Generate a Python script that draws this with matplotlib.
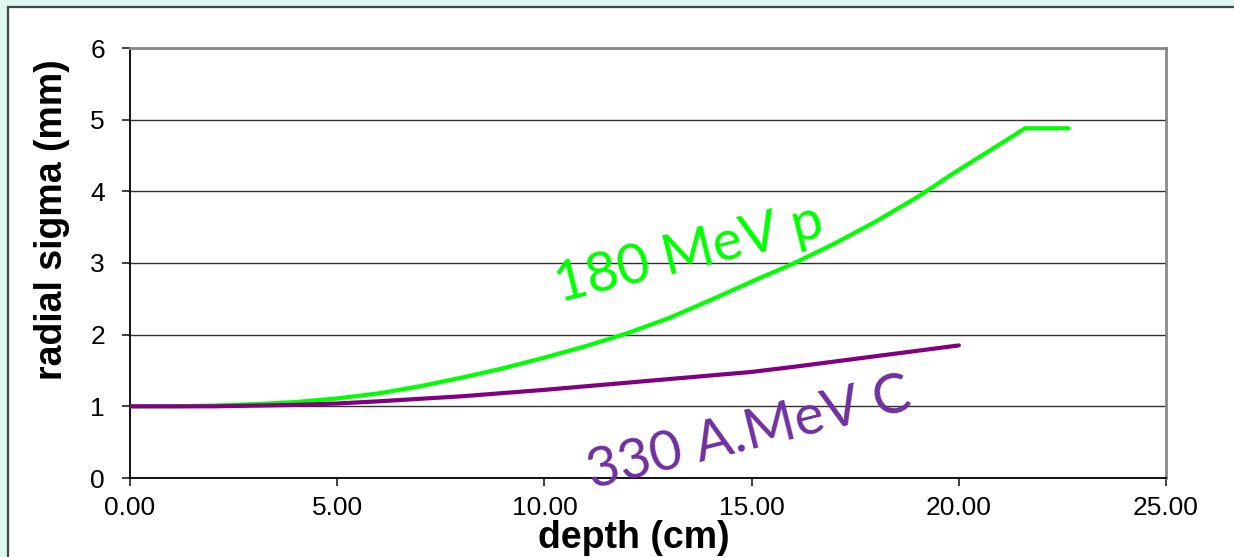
import matplotlib.pyplot as plt
from matplotlib.patches import Rectangle

# proton 180 MeV
p_depth = [0, 1, 2, 3, 4, 5, 6, 7, 8, 9, 10, 11, 12, 13, 14, 15, 16, 17, 18, 19, 20, 21, 21.6, 22.65]
p_sigma = [1.0, 1.0, 1.01, 1.03, 1.06, 1.11, 1.18, 1.28, 1.40, 1.53, 1.68, 1.84, 2.02, 2.23, 2.48, 2.74,
           2.99, 3.27, 3.58, 3.92, 4.30, 4.66, 4.88, 4.88]

# carbon 330 A.MeV
c_depth = [0, 2, 4, 5, 6, 8, 10, 12, 14, 15, 16, 18, 20]
c_sigma = [1.0, 1.0, 1.02, 1.04, 1.07, 1.14, 1.23, 1.33, 1.43, 1.48, 1.55, 1.70, 1.85]

x_ticks = [0, 5, 10, 15, 20, 25]
y_ticks = [0, 1, 2, 3, 4, 5, 6]

fig = plt.figure(figsize=(12.34, 5.57), dpi=100)
fig.patch.set_facecolor('#def5f0')
# white panel with dark border
fig.patches.append(Rectangle((8 / 1234, -0.05), 1.1, (557 - 7) / 557 + 0.05,
                             transform=fig.transFigure, facecolor='white',
                             edgecolor='#3c4a48', linewidth=1.6, zorder=-10))

ax = fig.add_axes([130 / 1234, 1 - 478 / 557, 1036 / 1234, 430 / 557])
ax.set_facecolor('white')

ax.plot(p_depth, p_sigma, color='#00ff00', linewidth=3.0, solid_capstyle='round',
        solid_joinstyle='round', zorder=3)
ax.plot(c_depth, c_sigma, color='#800080', linewidth=3.0, solid_capstyle='round',
        solid_joinstyle='round', zorder=3)

ax.set_xlim(0, 25)
ax.set_ylim(0, 6)
ax.set_xticks(x_ticks)
ax.set_xticklabels([f'{v:.2f}' for v in x_ticks])
ax.set_yticks(y_ticks)
ax.yaxis.grid(True, color='#303030', linewidth=1.0)
ax.set_axisbelow(True)

for s in ['left', 'bottom']:
    ax.spines[s].set_color('black')
    ax.spines[s].set_linewidth(1.3)
for s in ['top', 'right']:
    ax.spines[s].set_color('#888888')
    ax.spines[s].set_linewidth(2)

ax.tick_params(direction='out', length=6, width=1.2, color='#202020',
               labelsize=19, pad=7)
ax.tick_params(axis='y', pad=12)
for lab in ax.get_xticklabels() + ax.get_yticklabels():
    lab.set_fontfamily('Liberation Sans')

ax.set_xlabel('depth (cm)', fontsize=27, fontweight='bold', family='Liberation Sans')
ax.set_ylabel('radial sigma (mm)', fontsize=27, fontweight='bold', family='Liberation Sans')
ax.xaxis.set_label_coords(0.4865, -0.098)
ax.yaxis.set_label_coords(-0.058, 0.60)

ax.text(13.5, 3.12, '180 MeV p', color='#00ff00', fontsize=40, family='Lato',
        rotation=14, rotation_mode='anchor', ha='center', va='center')
ax.text(14.95, 0.62, '330 A.MeV C', color='#7030a0', fontsize=40, family='Lato',
        rotation=14, rotation_mode='anchor', ha='center', va='center')

fig.savefig('out.png', dpi=100, facecolor=fig.get_facecolor())
